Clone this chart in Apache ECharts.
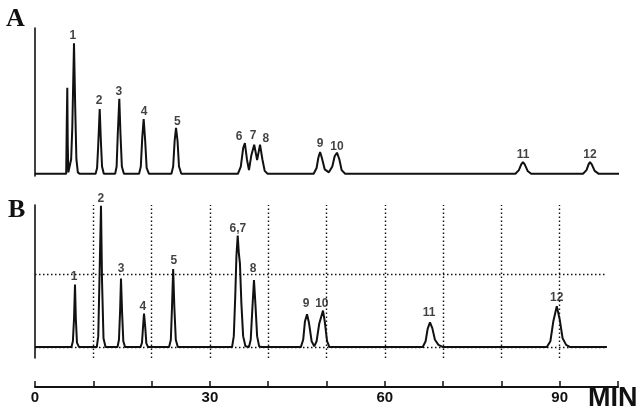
<!DOCTYPE html>
<html>
<head>
<meta charset="utf-8">
<script src="https://cdn.jsdelivr.net/npm/echarts@6/dist/echarts.min.js"></script>
<style>
html,body{margin:0;padding:0;background:#fff;}
#chart{width:643px;height:412px;}
</style>
</head>
<body>
<div id="chart"></div>
<script>
// ---- Data (minutes, relative detector response) ----
const traceA = [
  [0,0],[5.35,0],[5.45,0.7],[5.54,1.18],[5.62,0.4],[5.72,0.02],[6.0,0],[6.2,0.2],[6.4,0.64],[6.69,1.79],[6.9,0.9],[7.1,0.2],[7.35,0.02],[7.7,0],
  [10.4,0],[10.65,0.08],[10.85,0.4],[11.1,0.89],[11.3,0.45],[11.5,0.1],[11.8,0],
  [13.75,0],[14.0,0.1],[14.2,0.55],[14.46,1.03],[14.66,0.55],[14.9,0.1],[15.25,0],
  [17.85,0],[18.15,0.1],[18.4,0.5],[18.64,0.75],[18.9,0.45],[19.15,0.08],[19.55,0],
  [23.4,0],[23.7,0.1],[23.95,0.45],[24.19,0.63],[24.45,0.45],[24.7,0.1],[25.1,0],
  [34.8,0],[35.3,0.1],[35.7,0.35],[36.0,0.42],[36.35,0.2],[36.7,0.05],[37.1,0.25],[37.6,0.40],[38.1,0.19],[38.6,0.40],[39.0,0.2],[39.4,0.04],[39.9,0],
  [47.8,0],[48.3,0.08],[48.6,0.22],[48.9,0.30],[49.2,0.22],[49.7,0.06],[50.4,0.02],[51.0,0.1],[51.4,0.24],[51.8,0.29],[52.2,0.2],[52.6,0.05],[53.2,0],
  [82.4,0],[83.0,0.05],[83.4,0.13],[83.7,0.16],[84.0,0.13],[84.5,0.04],[85.1,0],
  [94.0,0],[94.6,0.05],[94.95,0.13],[95.2,0.16],[95.5,0.13],[96.0,0.04],[96.7,0],[100.8,0]
];
const traceB = [
  [0,0],[6.25,0],[6.5,0.08],[6.7,0.4],[6.86,0.86],[7.0,0.4],[7.2,0.06],[7.55,0],
  [10.6,0],[10.85,0.15],[11.05,0.9],[11.32,1.94],[11.5,0.9],[11.75,0.12],[12.1,0],
  [14.15,0],[14.4,0.1],[14.6,0.5],[14.75,0.94],[14.95,0.45],[15.15,0.08],[15.45,0],
  [18.1,0],[18.35,0.06],[18.55,0.3],[18.7,0.46],[18.9,0.28],[19.1,0.05],[19.4,0],
  [23.0,0],[23.3,0.1],[23.5,0.55],[23.7,1.07],[23.9,0.55],[24.15,0.1],[24.5,0],
  [33.8,0],[34.1,0.15],[34.35,0.7],[34.55,1.25],[34.77,1.53],[34.95,1.3],[35.15,1.15],[35.4,0.6],[35.7,0.15],[36.1,0.01],
  [36.7,0],[37.0,0.1],[37.3,0.55],[37.56,0.92],[37.8,0.6],[38.1,0.15],[38.45,0.01],[38.9,0],
  [45.6,0],[46.0,0.1],[46.3,0.35],[46.66,0.45],[47.0,0.33],[47.45,0.08],[47.9,0.01],[48.3,0.08],[48.75,0.32],[49.4,0.5],[49.7,0.35],[50.1,0.08],[50.5,0],
  [66.5,0],[67.0,0.08],[67.35,0.25],[67.75,0.34],[68.15,0.26],[68.6,0.1],[69.2,0.03],[70.0,0],
  [87.8,0],[88.4,0.08],[88.9,0.35],[89.5,0.56],[90.0,0.38],[90.5,0.12],[91.1,0.03],[91.8,0],[98.1,0]
];
const peakNamesA = ['1','2','3','4','5','6','7','8','9','10','11','12'];
const peakLabelTimesA = [6.5,11.0,14.4,18.7,24.4,35.0,37.4,39.6,48.9,51.8,83.7,95.2];
const peakLabelValuesA = [1.9,1.0,1.12,0.85,0.71,0.51,0.52,0.48,0.41,0.37,0.26,0.26];
const peakNamesB = ['1','2','3','4','5','6,7','8','9','10','11','12'];
const peakLabelTimesB = [6.7,11.3,14.75,18.5,23.8,34.8,37.4,46.5,49.2,67.6,89.5];
const peakLabelValuesB = [0.96,2.04,1.07,0.56,1.18,1.63,1.08,0.60,0.60,0.47,0.68];
const gridTimes = [10,20,30,40,50,60,70,80,90];
const refLevels = [0,1];
const traceEndB = 98;
const tickLabels = [0,30,60,90];
const axisMax = 100;

const chart = echarts.init(document.getElementById('chart'), null, {renderer:'canvas'});
const black = '#111';
const labelFont = {fontFamily:'Liberation Sans', fontWeight:'bold', fontSize:12, color:black};

const markData = gridTimes.map(t => ({xAxis:t}));
refLevels.forEach(v => markData.push([{coord:[0,v]},{coord:[traceEndB,v]}]));

chart.setOption({
  backgroundColor:'#fff',
  animation:false,
  grid:[
    {left:35, right:25, top:28, height:148},
    {left:35, right:25, top:205, height:153}
  ],
  xAxis:[
    {gridIndex:0, type:'value', min:0, max:axisMax, show:false},
    {gridIndex:1, type:'value', min:0, max:axisMax, interval:10, position:'bottom', offset:29,
      axisLine:{onZero:false, lineStyle:{color:black, width:2}},
      axisTick:{inside:true, length:6, lineStyle:{color:black, width:1.5}},
      axisLabel:{formatter:v => tickLabels.indexOf(v) >= 0 ? String(v) : '', color:black,
        fontFamily:'Liberation Sans', fontWeight:'bold', fontSize:15, margin:3},
      splitLine:{show:false}}
  ],
  yAxis:[
    {gridIndex:0, type:'value', min:-0.03, max:2,
      axisLine:{show:true, onZero:false, lineStyle:{color:black, width:1.6}},
      axisTick:{show:false}, axisLabel:{show:false}, splitLine:{show:false}},
    {gridIndex:1, type:'value', min:-0.15, max:1.95,
      axisLine:{show:true, onZero:false, lineStyle:{color:black, width:1.6}},
      axisTick:{show:false}, axisLabel:{show:false}, splitLine:{show:false}}
  ],
  series:[
    {type:'line', xAxisIndex:0, yAxisIndex:0, data:traceA, showSymbol:false, clip:false,
      lineStyle:{color:black, width:2}},
    {type:'line', xAxisIndex:1, yAxisIndex:1, data:traceB, showSymbol:false, clip:false,
      lineStyle:{color:black, width:2},
      markLine:{silent:true, symbol:'none', label:{show:false}, animation:false,
        lineStyle:{color:black, type:[1.5,2.5], width:1.4}, data:markData}},
    {type:'scatter', xAxisIndex:0, yAxisIndex:0, symbolSize:0, clip:false,
      data:peakNamesA.map((n,i) => ({name:n, value:[peakLabelTimesA[i], peakLabelValuesA[i]]})),
      label:Object.assign({show:true, position:'inside', formatter:'{b}'}, labelFont)},
    {type:'scatter', xAxisIndex:1, yAxisIndex:1, symbolSize:0, clip:false,
      data:peakNamesB.map((n,i) => ({name:n, value:[peakLabelTimesB[i], peakLabelValuesB[i]]})),
      label:Object.assign({show:true, position:'inside', formatter:'{b}'}, labelFont)}
  ],
  graphic:[
    {type:'text', left:6, top:6, style:{text:'A', font:'bold 26px "Liberation Serif"', fill:black}},
    {type:'text', left:8, top:197, style:{text:'B', font:'bold 26px "Liberation Serif"', fill:black}},
    {type:'text', left:588, top:385, style:{text:'MIN', font:'bold 27px "Liberation Sans"', fill:black}}
  ]
});
</script>
</body>
</html>
